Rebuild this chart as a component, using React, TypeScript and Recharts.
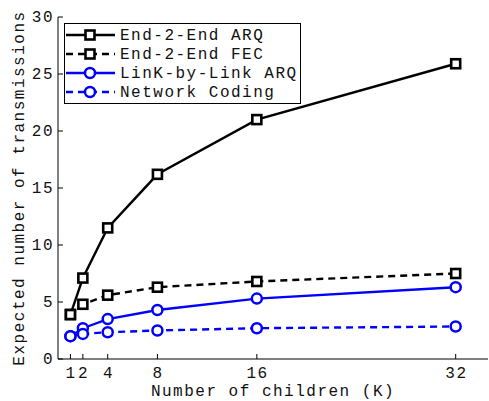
import React from "react";
import { LineChart, Line, XAxis, YAxis } from "recharts";

const children = [1, 2, 4, 8, 16, 32];
const endToEndArq = [3.9, 7.1, 11.5, 16.2, 21.0, 25.9];
const endToEndFec = [3.9, 4.8, 5.6, 6.3, 6.8, 7.5];
const linkByLinkArq = [2.0, 2.7, 3.5, 4.3, 5.3, 6.3];
const networkCoding = [2.0, 2.2, 2.35, 2.5, 2.7, 2.85];
const yTicks = [0, 5, 10, 15, 20, 25, 30];
const seriesNames = ["End-2-End ARQ", "End-2-End FEC", "LinK-by-Link ARQ", "Network Coding"];

const data = children.map((k, i) => ({
  k,
  arq: endToEndArq[i],
  fec: endToEndFec[i],
  link: linkByLinkArq[i],
  nc: networkCoding[i],
}));

const FONT = "'Liberation Mono', 'DejaVu Sans Mono', monospace";
const BLUE = "#0000ff";
const DASH = "7 5";
const LW = 2.4;

const series = [
  { key: "arq", color: "#000", dash: undefined, marker: "square" },
  { key: "fec", color: "#000", dash: DASH, marker: "square" },
  { key: "link", color: BLUE, dash: undefined, marker: "circle" },
  { key: "nc", color: BLUE, dash: DASH, marker: "circle" },
];

const Marker = ({ cx, cy, type, color }: any) =>
  type === "square" ? (
    <rect x={cx - 4.5} y={cy - 4.5} width={9} height={9} fill="#fff" stroke={color} strokeWidth={2.6} />
  ) : (
    <circle cx={cx} cy={cy} r={5} fill="#fff" stroke={color} strokeWidth={2.5} />
  );

const textStyle = { fontFamily: FONT, fontSize: 16, letterSpacing: 1.5, fill: "#111" };

const BottomTick = ({ x, y, payload }: any) => (
  <g>
    <line x1={x} x2={x} y1={y} y2={y - 5} stroke="#000" />
    <text x={x + 0.75} y={y + 19} textAnchor="middle" style={textStyle}>{payload.value}</text>
  </g>
);
const TopTick = ({ x, y }: any) => <line x1={x} x2={x} y1={y} y2={y + 5} stroke="#000" />;
const LeftTick = ({ x, y, payload }: any) => (
  <g>
    <line x1={x} x2={x + 5} y1={y} y2={y} stroke="#000" />
    <text x={x - 4} y={y + 5} textAnchor="end" style={textStyle}>{payload.value}</text>
  </g>
);
const RightTick = ({ x, y }: any) => <line x1={x} x2={x - 5} y1={y} y2={y} stroke="#000" />;

const YLabel = ({ viewBox }: any) => {
  const cx = viewBox.x + 20;
  const cy = viewBox.y + viewBox.height / 2;
  return (
    <text x={cx} y={cy} textAnchor="middle" dominantBaseline="central" transform={`rotate(-90 ${cx} ${cy})`} style={textStyle}>
      Expected number of transmissions
    </text>
  );
};

const LegendBox = () => (
  <svg width={237} height={81} style={{ position: "absolute", left: 64, top: 23 }}>
    <rect x={0.5} y={0.5} width={236} height={80} fill="#fff" stroke="#000" />
    {series.map((s, i) => {
      const cy = 12 + i * 19;
      return (
        <g key={s.key}>
          <line x1={2} x2={51} y1={cy} y2={cy} stroke={s.color} strokeWidth={LW} strokeDasharray={s.dash} />
          <Marker cx={26} cy={cy} type={s.marker} color={s.color} />
          <text x={56} y={cy + 5} style={textStyle}>{seriesNames[i]}</text>
        </g>
      );
    })}
  </svg>
);

export default function App() {
  return (
    <div style={{ position: "absolute", left: 0, top: 0, width: 489, height: 401, background: "#fff" }}>
      <LineChart width={489} height={401} data={data} margin={{ top: 17, right: 1, left: 0, bottom: 0 }}>
        <XAxis
          xAxisId="b"
          dataKey="k"
          type="number"
          domain={[0, 34.6]}
          ticks={children}
          interval={0}
          allowDataOverflow
          height={42}
          tickSize={0}
          tickMargin={0}
          stroke="#000"
          tick={<BottomTick />}
          label={{ value: "Number of children (K)", position: "insideBottom", offset: 5, style: textStyle }}
        />
        <XAxis
          xAxisId="t"
          orientation="top"
          dataKey="k"
          type="number"
          domain={[0, 34.6]}
          ticks={children}
          interval={0}
          allowDataOverflow
          height={0}
          tickSize={0}
          stroke="#000"
          tick={<TopTick />}
        />
        <YAxis
          yAxisId="l"
          domain={[0, 30]}
          ticks={yTicks}
          interval={0}
          width={58}
          tickSize={0}
          tickMargin={0}
          stroke="#000"
          tick={<LeftTick />}
          label={<YLabel />}
        />
        <YAxis
          yAxisId="r"
          orientation="right"
          domain={[0, 30]}
          ticks={yTicks}
          interval={0}
          width={0}
          tickSize={0}
          stroke="#000"
          tick={<RightTick />}
        />
        {series.map((s) => (
          <Line
            key={s.key}
            xAxisId="b"
            yAxisId="l"
            dataKey={s.key}
            stroke={s.color}
            strokeWidth={LW}
            strokeDasharray={s.dash}
            isAnimationActive={false}
            dot={(p: any) => <Marker key={p.index} cx={p.cx} cy={p.cy} type={s.marker} color={s.color} />}
            activeDot={false}
          />
        ))}
      </LineChart>
      <LegendBox />
    </div>
  );
}
